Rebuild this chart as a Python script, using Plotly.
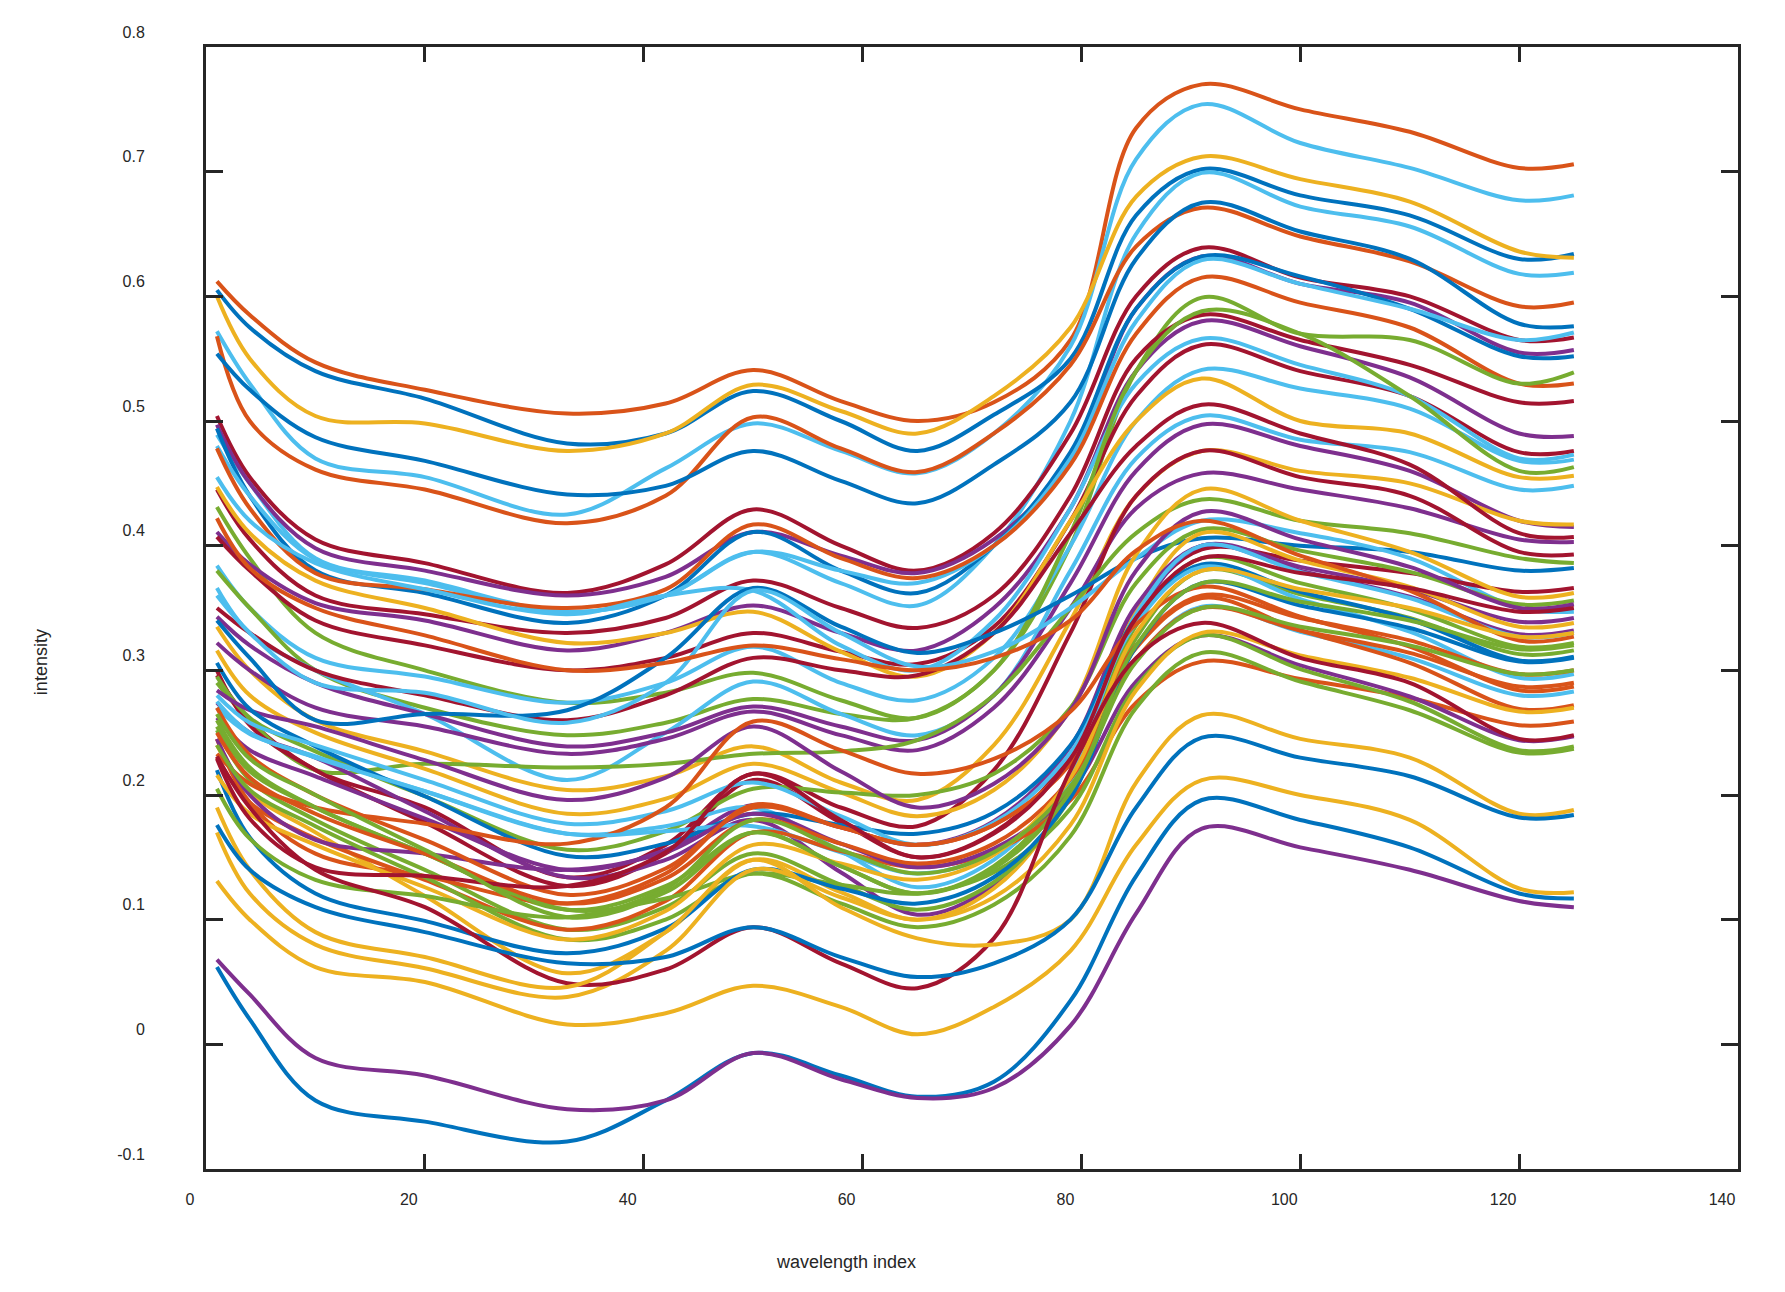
import plotly.graph_objects as go

wavelength_index = [1, 4, 10, 20, 33, 42, 50, 58, 65, 72, 79, 85, 91, 100, 110, 120, 125]

# spectra (intensity values read at the positions above)
s01 = [0.612, 0.585, 0.547, 0.525, 0.506, 0.514, 0.541, 0.516, 0.500, 0.515, 0.565, 0.735, 0.770, 0.750, 0.732, 0.703, 0.706]
s02 = [0.572, 0.530, 0.470, 0.455, 0.425, 0.462, 0.498, 0.476, 0.458, 0.490, 0.560, 0.710, 0.754, 0.723, 0.703, 0.677, 0.681]
s03 = [0.605, 0.575, 0.540, 0.518, 0.482, 0.490, 0.524, 0.500, 0.476, 0.505, 0.550, 0.665, 0.702, 0.681, 0.665, 0.630, 0.634]
s04 = [0.600, 0.550, 0.504, 0.498, 0.476, 0.490, 0.529, 0.508, 0.490, 0.520, 0.575, 0.680, 0.712, 0.694, 0.676, 0.636, 0.631]
s05 = [0.489, 0.450, 0.390, 0.372, 0.347, 0.360, 0.395, 0.370, 0.352, 0.400, 0.500, 0.650, 0.699, 0.672, 0.656, 0.618, 0.619]
s06 = [0.568, 0.500, 0.461, 0.445, 0.418, 0.440, 0.503, 0.478, 0.459, 0.490, 0.545, 0.640, 0.671, 0.648, 0.628, 0.592, 0.595]
s07 = [0.554, 0.525, 0.487, 0.468, 0.441, 0.448, 0.476, 0.452, 0.434, 0.465, 0.515, 0.630, 0.675, 0.652, 0.630, 0.578, 0.576]
s08 = [0.504, 0.455, 0.405, 0.386, 0.362, 0.385, 0.429, 0.400, 0.380, 0.410, 0.490, 0.600, 0.639, 0.615, 0.600, 0.565, 0.567]
s09 = [0.497, 0.450, 0.398, 0.380, 0.360, 0.375, 0.411, 0.392, 0.378, 0.405, 0.470, 0.590, 0.632, 0.610, 0.595, 0.555, 0.557]
s10 = [0.494, 0.440, 0.380, 0.362, 0.338, 0.360, 0.411, 0.380, 0.362, 0.400, 0.475, 0.590, 0.632, 0.616, 0.590, 0.552, 0.552]
s11 = [0.480, 0.440, 0.389, 0.370, 0.347, 0.360, 0.395, 0.380, 0.370, 0.400, 0.470, 0.580, 0.629, 0.610, 0.590, 0.565, 0.571]
s12 = [0.478, 0.430, 0.378, 0.365, 0.350, 0.365, 0.417, 0.390, 0.374, 0.400, 0.465, 0.570, 0.615, 0.595, 0.575, 0.530, 0.530]
s13 = [0.431, 0.390, 0.330, 0.300, 0.274, 0.282, 0.298, 0.276, 0.262, 0.300, 0.400, 0.540, 0.599, 0.570, 0.565, 0.530, 0.539]
s14 = [0.445, 0.405, 0.360, 0.345, 0.330, 0.342, 0.372, 0.350, 0.334, 0.360, 0.440, 0.550, 0.585, 0.565, 0.545, 0.515, 0.516]
s15 = [0.411, 0.385, 0.354, 0.340, 0.316, 0.330, 0.352, 0.330, 0.316, 0.350, 0.430, 0.540, 0.580, 0.560, 0.535, 0.490, 0.488]
s16 = [0.407, 0.380, 0.340, 0.320, 0.300, 0.310, 0.330, 0.315, 0.305, 0.335, 0.420, 0.520, 0.561, 0.540, 0.520, 0.475, 0.476]
s17 = [0.455, 0.420, 0.386, 0.365, 0.345, 0.360, 0.364, 0.320, 0.300, 0.340, 0.430, 0.530, 0.566, 0.545, 0.520, 0.470, 0.473]
s18 = [0.384, 0.350, 0.310, 0.295, 0.274, 0.290, 0.319, 0.290, 0.276, 0.310, 0.400, 0.500, 0.541, 0.526, 0.510, 0.468, 0.469]
s19 = [0.380, 0.350, 0.300, 0.270, 0.248, 0.258, 0.277, 0.265, 0.262, 0.300, 0.410, 0.540, 0.588, 0.570, 0.520, 0.460, 0.463]
s20 = [0.447, 0.410, 0.372, 0.350, 0.322, 0.330, 0.347, 0.315, 0.295, 0.330, 0.420, 0.500, 0.534, 0.500, 0.490, 0.455, 0.456]
s21 = [0.366, 0.330, 0.300, 0.265, 0.212, 0.250, 0.291, 0.265, 0.248, 0.280, 0.380, 0.470, 0.504, 0.485, 0.475, 0.445, 0.448]
s22 = [0.343, 0.320, 0.290, 0.265, 0.239, 0.250, 0.271, 0.255, 0.244, 0.280, 0.370, 0.460, 0.497, 0.480, 0.460, 0.420, 0.415]
s23 = [0.335, 0.300, 0.260, 0.235, 0.204, 0.215, 0.239, 0.210, 0.196, 0.240, 0.340, 0.440, 0.476, 0.460, 0.450, 0.420, 0.417]
s24 = [0.322, 0.300, 0.270, 0.255, 0.233, 0.245, 0.267, 0.248, 0.236, 0.270, 0.350, 0.430, 0.458, 0.445, 0.430, 0.405, 0.403]
s25 = [0.350, 0.330, 0.300, 0.280, 0.260, 0.280, 0.310, 0.300, 0.296, 0.330, 0.410, 0.480, 0.513, 0.490, 0.465, 0.410, 0.407]
s26 = [0.296, 0.260, 0.220, 0.190, 0.134, 0.160, 0.217, 0.190, 0.175, 0.220, 0.330, 0.440, 0.476, 0.455, 0.440, 0.395, 0.393]
s27 = [0.290, 0.260, 0.220, 0.225, 0.222, 0.225, 0.233, 0.235, 0.244, 0.280, 0.350, 0.410, 0.437, 0.420, 0.410, 0.390, 0.386]
s28 = [0.340, 0.310, 0.260, 0.265, 0.268, 0.310, 0.366, 0.335, 0.314, 0.330, 0.360, 0.390, 0.406, 0.400, 0.395, 0.380, 0.382]
s29 = [0.360, 0.330, 0.290, 0.282, 0.258, 0.290, 0.364, 0.330, 0.303, 0.315, 0.350, 0.390, 0.420, 0.410, 0.390, 0.350, 0.347]
s30 = [0.300, 0.256, 0.220, 0.178, 0.127, 0.153, 0.212, 0.178, 0.150, 0.170, 0.232, 0.348, 0.397, 0.388, 0.378, 0.363, 0.366]
s31 = [0.316, 0.280, 0.250, 0.221, 0.185, 0.197, 0.225, 0.202, 0.183, 0.204, 0.269, 0.393, 0.445, 0.420, 0.395, 0.359, 0.362]
s32 = [0.295, 0.262, 0.235, 0.199, 0.156, 0.171, 0.205, 0.202, 0.200, 0.217, 0.270, 0.370, 0.413, 0.396, 0.379, 0.353, 0.356]
s33 = [0.284, 0.268, 0.255, 0.228, 0.196, 0.214, 0.255, 0.219, 0.190, 0.209, 0.268, 0.380, 0.427, 0.405, 0.383, 0.350, 0.353]
s34 = [0.274, 0.250, 0.230, 0.187, 0.134, 0.148, 0.180, 0.138, 0.104, 0.128, 0.202, 0.341, 0.400, 0.383, 0.365, 0.339, 0.342]
s35 = [0.240, 0.202, 0.170, 0.119, 0.057, 0.090, 0.148, 0.122, 0.100, 0.125, 0.202, 0.348, 0.410, 0.388, 0.367, 0.335, 0.338]
s36 = [0.262, 0.236, 0.215, 0.181, 0.140, 0.156, 0.192, 0.174, 0.160, 0.179, 0.239, 0.352, 0.400, 0.380, 0.359, 0.329, 0.332]
s37 = [0.270, 0.249, 0.231, 0.203, 0.169, 0.175, 0.190, 0.155, 0.126, 0.148, 0.216, 0.345, 0.400, 0.379, 0.358, 0.327, 0.330]
s38 = [0.422, 0.382, 0.350, 0.328, 0.300, 0.306, 0.320, 0.309, 0.300, 0.310, 0.340, 0.396, 0.420, 0.392, 0.364, 0.324, 0.327]
s39 = [0.255, 0.219, 0.190, 0.153, 0.108, 0.127, 0.170, 0.143, 0.121, 0.143, 0.210, 0.336, 0.390, 0.370, 0.349, 0.319, 0.322]
s40 = [0.252, 0.212, 0.180, 0.140, 0.092, 0.110, 0.153, 0.128, 0.108, 0.130, 0.198, 0.326, 0.380, 0.361, 0.342, 0.313, 0.316]
s41 = [0.306, 0.269, 0.239, 0.199, 0.151, 0.161, 0.185, 0.176, 0.169, 0.186, 0.240, 0.342, 0.385, 0.363, 0.341, 0.308, 0.311]
s42 = [0.280, 0.258, 0.240, 0.212, 0.177, 0.187, 0.210, 0.183, 0.160, 0.178, 0.234, 0.338, 0.383, 0.357, 0.331, 0.294, 0.297]
s43 = [0.233, 0.209, 0.190, 0.177, 0.161, 0.190, 0.259, 0.236, 0.217, 0.229, 0.267, 0.337, 0.367, 0.343, 0.319, 0.284, 0.287]
s44 = [0.275, 0.250, 0.230, 0.203, 0.169, 0.171, 0.175, 0.154, 0.137, 0.154, 0.208, 0.308, 0.351, 0.331, 0.310, 0.280, 0.283]
s45 = [0.245, 0.194, 0.153, 0.135, 0.113, 0.137, 0.192, 0.174, 0.160, 0.176, 0.225, 0.318, 0.358, 0.332, 0.306, 0.269, 0.272]
s46 = [0.230, 0.194, 0.165, 0.132, 0.092, 0.115, 0.170, 0.155, 0.142, 0.155, 0.196, 0.274, 0.307, 0.293, 0.278, 0.256, 0.259]
s47 = [0.245, 0.200, 0.164, 0.153, 0.140, 0.154, 0.185, 0.161, 0.142, 0.157, 0.203, 0.291, 0.328, 0.304, 0.279, 0.244, 0.247]
s48 = [0.260, 0.222, 0.190, 0.153, 0.108, 0.117, 0.137, 0.128, 0.121, 0.138, 0.189, 0.287, 0.328, 0.301, 0.275, 0.236, 0.239]
s49 = [0.240, 0.204, 0.175, 0.134, 0.084, 0.100, 0.137, 0.113, 0.094, 0.112, 0.167, 0.270, 0.314, 0.291, 0.268, 0.234, 0.237]
s50 = [0.270, 0.232, 0.200, 0.164, 0.120, 0.141, 0.190, 0.174, 0.160, 0.176, 0.226, 0.320, 0.360, 0.342, 0.324, 0.297, 0.300]
s51 = [0.250, 0.214, 0.185, 0.153, 0.113, 0.133, 0.180, 0.161, 0.145, 0.161, 0.213, 0.309, 0.350, 0.332, 0.314, 0.287, 0.290]
s52 = [0.220, 0.166, 0.121, 0.099, 0.073, 0.093, 0.140, 0.125, 0.113, 0.134, 0.198, 0.319, 0.370, 0.352, 0.334, 0.307, 0.310]
s53 = [0.216, 0.185, 0.160, 0.126, 0.084, 0.107, 0.160, 0.145, 0.132, 0.152, 0.214, 0.330, 0.380, 0.365, 0.350, 0.327, 0.330]
s54 = [0.229, 0.181, 0.142, 0.135, 0.127, 0.154, 0.217, 0.180, 0.150, 0.169, 0.229, 0.342, 0.390, 0.378, 0.366, 0.347, 0.350]
s55 = [0.205, 0.165, 0.132, 0.119, 0.102, 0.125, 0.180, 0.156, 0.137, 0.154, 0.207, 0.307, 0.350, 0.335, 0.320, 0.297, 0.300]
s56 = [0.265, 0.229, 0.200, 0.156, 0.102, 0.122, 0.170, 0.143, 0.121, 0.141, 0.203, 0.320, 0.370, 0.355, 0.340, 0.317, 0.320]
s57 = [0.170, 0.121, 0.080, 0.061, 0.038, 0.075, 0.140, 0.118, 0.100, 0.118, 0.176, 0.284, 0.330, 0.312, 0.294, 0.267, 0.270]
s58 = [0.231, 0.190, 0.140, 0.110, 0.049, 0.060, 0.094, 0.065, 0.045, 0.085, 0.220, 0.310, 0.338, 0.310, 0.290, 0.245, 0.248]
s59 = [0.190, 0.140, 0.090, 0.070, 0.046, 0.090, 0.148, 0.110, 0.085, 0.080, 0.100, 0.210, 0.264, 0.245, 0.230, 0.185, 0.188]
s60 = [0.176, 0.140, 0.110, 0.090, 0.065, 0.070, 0.094, 0.070, 0.054, 0.065, 0.100, 0.190, 0.246, 0.230, 0.215, 0.182, 0.184]
s61 = [0.131, 0.100, 0.062, 0.050, 0.016, 0.025, 0.047, 0.030, 0.008, 0.030, 0.075, 0.160, 0.212, 0.200, 0.180, 0.125, 0.122]
s62 = [0.062, 0.020, -0.045, -0.062, -0.078, -0.045, -0.007, -0.025, -0.042, -0.030, 0.035, 0.135, 0.196, 0.180, 0.158, 0.121, 0.117]
s63 = [0.068, 0.040, -0.011, -0.025, -0.052, -0.045, -0.007, -0.028, -0.043, -0.035, 0.015, 0.105, 0.173, 0.158, 0.140, 0.115, 0.110]

series = [s01, s02, s03, s04, s05, s06, s07, s08, s09, s10,
          s11, s12, s13, s14, s15, s16, s17, s18, s19, s20,
          s21, s22, s23, s24, s25, s26, s27, s28, s29, s30,
          s31, s32, s33, s34, s35, s36, s37, s38, s39, s40,
          s41, s42, s43, s44, s45, s46, s47, s48, s49, s50,
          s51, s52, s53, s54, s55, s56, s57, s58, s59, s60,
          s61, s62, s63]

# colour key of each spectrum (MATLAB default colour order)
series_color_keys = ["O", "L", "B", "Y", "L", "O", "B", "R", "P", "B",
                     "L", "O", "G", "R", "P", "R", "L", "L", "G", "Y",
                     "L", "P", "Y", "P", "R", "R", "G", "B", "L", "R",
                     "Y", "G", "P", "P", "Y", "P", "L", "O", "G", "G",
                     "B", "L", "O", "L", "O", "O", "P", "G", "G", "O",
                     "O", "B", "Y", "R", "G", "G", "Y", "R", "Y", "B",
                     "Y", "B", "P"]

palette = {
    "B": "#0072BD",
    "O": "#D95319",
    "Y": "#EDB120",
    "P": "#7E2F8E",
    "G": "#77AC30",
    "L": "#4DBEEE",
    "R": "#A2142F",
}

x_ticks = [0, 20, 40, 60, 80, 100, 120, 140]
y_ticks = [-0.1, 0, 0.1, 0.2, 0.3, 0.4, 0.5, 0.6, 0.7, 0.8]
y_tick_text = ["-0.1", "0", "0.1", "0.2", "0.3", "0.4", "0.5", "0.6", "0.7", "0.8"]

fig = go.Figure()
for vals, key in zip(series, series_color_keys):
    fig.add_trace(go.Scatter(
        x=wavelength_index, y=vals, mode="lines",
        line=dict(color=palette[key], width=4, shape="spline", smoothing=1.0),
        showlegend=False, hoverinfo="skip",
    ))

axis_color = "#262626"
font_family = "Liberation Sans, Arial, Helvetica, sans-serif"

fig.update_layout(
    width=1769, height=1276, autosize=False,
    margin=dict(l=198, r=39, t=39, b=115, pad=0),
    paper_bgcolor="white", plot_bgcolor="white",
    font=dict(family=font_family, size=16, color=axis_color),
    showlegend=False,
)

fig.update_xaxes(
    range=[0, 140], tickvals=x_ticks, ticktext=[str(v) for v in x_ticks],
    ticks="inside", ticklen=15, tickwidth=3, tickcolor=axis_color,
    showline=True, linewidth=3, linecolor=axis_color, mirror="ticks",
    showgrid=False, zeroline=False,
    tickfont=dict(size=16, color=axis_color, family=font_family),
    ticklabelshift=-16, ticklabelstandoff=14,
)
fig.update_yaxes(
    range=[-0.1, 0.8], tickvals=y_ticks, ticktext=y_tick_text,
    ticks="inside", ticklen=17, tickwidth=3, tickcolor=axis_color,
    showline=True, linewidth=3, linecolor=axis_color, mirror="ticks",
    showgrid=False, zeroline=False,
    tickfont=dict(size=16, color=axis_color, family=font_family),
    ticklabelshift=-15, ticklabelstandoff=55,
)

fig.add_annotation(
    text="wavelength index", xref="paper", yref="paper",
    x=0.418, y=-0.0829, xanchor="center", yanchor="middle",
    showarrow=False, font=dict(size=18, color=axis_color, family=font_family),
)
fig.add_annotation(
    text="intensity", xref="paper", yref="paper",
    x=-0.1076, y=0.4519, xanchor="center", yanchor="middle", textangle=-90,
    showarrow=False, font=dict(size=18, color=axis_color, family=font_family),
)

fig.write_html("out.html")
